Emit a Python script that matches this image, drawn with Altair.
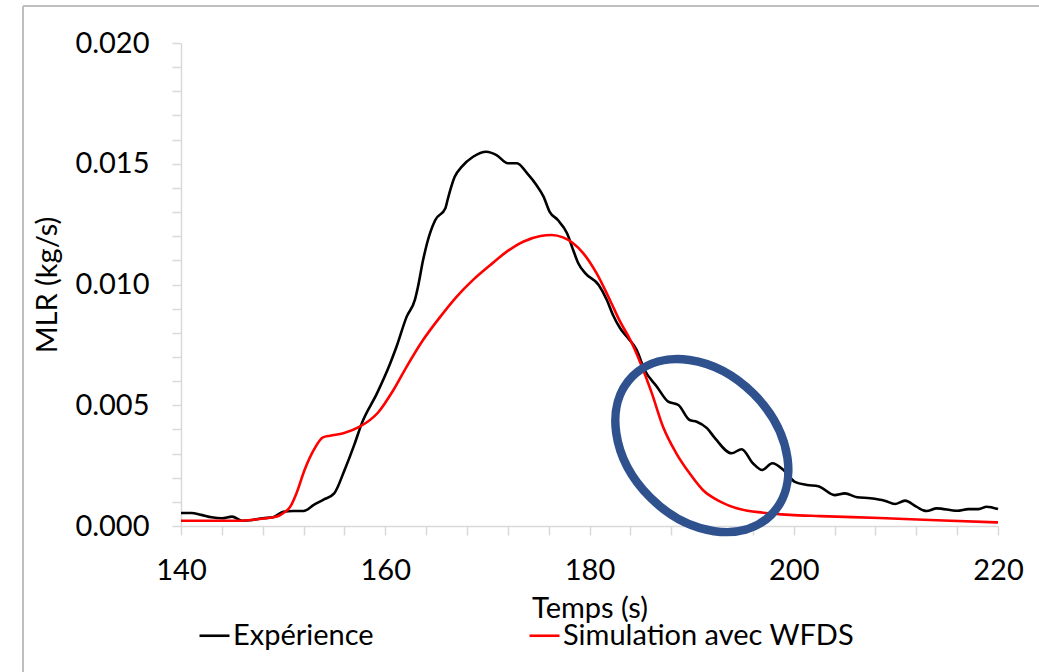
import altair as alt
import pandas as pd

# Experimental MLR curve (black)
t_exp = [140.0, 141.0, 142.0, 143.0, 144.0, 145.0, 146.0, 147.0, 148.0, 149.0,
         150.0, 151.0, 152.0, 153.0, 154.0, 155.0, 156.0, 157.0, 157.7, 159.2,
         160.5, 161.1, 162.1, 162.9, 163.2, 163.7, 164.1, 164.9, 165.9, 166.1,
         166.8, 167.5, 168.6, 169.9, 170.9, 172.0, 172.9, 173.9, 174.8, 175.5,
         176.1, 176.9, 177.8, 178.4, 178.9, 179.6, 180.9, 181.7, 182.3, 183.0,
         183.8, 184.6, 185.4, 186.6, 187.7, 188.7, 189.8, 190.5, 191.5, 192.3,
         193.9, 194.9, 196.0, 196.9, 197.9, 199.0, 200.1, 201.3, 202.4, 204.0,
         205.0, 206.2, 207.5, 208.9, 209.9, 210.9, 212.0, 213.0, 214.0, 216.0,
         217.1, 218.1, 218.9, 220.0]
v_exp = [0.00054, 0.00054, 0.00046, 0.00036, 0.00032, 0.00039, 0.00022, 0.00025, 0.00032, 0.00036,
         0.00059, 0.00062, 0.00062, 0.00087, 0.00110, 0.00135, 0.00230, 0.00340, 0.00425, 0.00550,
         0.00675, 0.00742, 0.00867, 0.00936, 0.00990, 0.01100, 0.01172, 0.01267, 0.01317, 0.01350,
         0.01446, 0.01488, 0.01529, 0.01550, 0.01536, 0.01502, 0.01502, 0.01460, 0.01412, 0.01364,
         0.01301, 0.01267, 0.01212, 0.01143, 0.01088, 0.01046, 0.00998, 0.00936, 0.00874, 0.00819,
         0.00777, 0.00730, 0.00646, 0.00577, 0.00515, 0.00501, 0.00439, 0.00432, 0.00405, 0.00363,
         0.00301, 0.00318, 0.00260, 0.00232, 0.00260, 0.00232, 0.00183, 0.00170, 0.00165, 0.00128,
         0.00135, 0.00119, 0.00115, 0.00105, 0.00091, 0.00105, 0.00080, 0.00062, 0.00073, 0.00063,
         0.00070, 0.00070, 0.00080, 0.00070]

# WFDS simulation curve (red)
t_sim = [140.0, 146.0, 147.7, 149.4, 150.0, 150.7, 151.3, 152.1, 153.0, 153.9,
         154.6, 155.9, 157.5, 159.3, 160.8, 162.1, 163.7, 165.4, 167.0, 168.6,
         170.3, 171.9, 173.5, 175.2, 176.3, 177.4, 178.4, 179.4, 180.7, 182.0,
         183.0, 184.0, 185.0, 186.1, 187.2, 188.5, 189.8, 191.1, 192.8, 194.7,
         197.0, 199.6, 202.6, 208.4, 214.0, 220.0]
v_sim = [0.00022, 0.00022, 0.00029, 0.00039, 0.00053, 0.00080, 0.00135, 0.00232, 0.00315, 0.00367,
         0.00374, 0.00384, 0.00411, 0.00470, 0.00563, 0.00660, 0.00770, 0.00867, 0.00950, 0.01019,
         0.01081, 0.01136, 0.01177, 0.01201, 0.01205, 0.01195, 0.01171, 0.01129, 0.01046, 0.00936,
         0.00846, 0.00770, 0.00674, 0.00550, 0.00411, 0.00301, 0.00218, 0.00149, 0.00101, 0.00070,
         0.00055, 0.00046, 0.00041, 0.00033, 0.00024, 0.00015]

series_names = ["Expérience", "Simulation avec WFDS"]
series_colors = ["#000000", "#FF0000"]

x_ticks = [140, 144, 148, 152, 156, 160, 164, 168, 172, 176, 180,
           184, 188, 192, 196, 200, 204, 208, 212, 216, 220]
y_ticks = [0.000, 0.001, 0.002, 0.003, 0.004, 0.005, 0.006, 0.007, 0.008, 0.009, 0.010,
           0.011, 0.012, 0.013, 0.014, 0.015, 0.016, 0.017, 0.018, 0.019, 0.020]

# highlighted region (ellipse annotation centre)
ellipse_center_t = [191.0]
ellipse_center_v = [0.00333]

FONT = "Lato"
AXIS_GRAY = "#D9D9D9"

df = pd.concat([
    pd.DataFrame({"t": t_exp, "v": v_exp, "s": series_names[0]}),
    pd.DataFrame({"t": t_sim, "v": v_sim, "s": series_names[1]}),
])

x_scale = alt.Scale(domain=[140, 220], nice=False, zero=False)
y_scale = alt.Scale(domain=[0, 0.02], nice=False, zero=True)

lines = alt.Chart(df).mark_line(strokeWidth=2.6, interpolate="monotone").encode(
    x=alt.X("t:Q", scale=x_scale, axis=alt.Axis(
        title="Temps (s)", values=x_ticks, tickCount=40,
        labelExpr="datum.value % 20 === 0 ? datum.label : ''",
        labelOverlap=False, labelFlush=False,
        grid=False, domainColor=AXIS_GRAY, domainWidth=1.5,
        tickColor=AXIS_GRAY, tickWidth=1.5, tickSize=9,
        labelFont=FONT, labelFontSize=29, labelColor="#000000",
        labelPadding=21, labelBaseline="top",
        titleFont=FONT, titleFontSize=29, titleFontWeight="normal", titleColor="#000000",
        titleX=408.5, titleY=91, titleBaseline="alphabetic", titleAlign="center",
    )),
    y=alt.Y("v:Q", scale=y_scale, axis=alt.Axis(
        title="MLR (kg/s)", values=y_ticks, tickCount=40,
        labelExpr="round(datum.value*1000) % 5 === 0 ? format(datum.value, '.3f') : ''",
        labelOverlap=False, labelFlush=False,
        grid=False, domainColor=AXIS_GRAY, domainWidth=1.5,
        tickColor=AXIS_GRAY, tickWidth=1.5, tickSize=9,
        labelFont=FONT, labelFontSize=29, labelColor="#000000",
        labelPadding=23,
        titleFont=FONT, titleFontSize=29, titleFontWeight="normal", titleColor="#000000",
        titleAngle=270, titleX=-134, titleY=241.5, titleBaseline="middle", titleAlign="center",
    )),
    color=alt.Color("s:N", scale=alt.Scale(domain=series_names, range=series_colors),
                    legend=alt.Legend(
                        title=None, orient="none", legendX=17, legendY=576,
                        direction="horizontal", symbolType="stroke", symbolSize=900,
                        symbolStrokeWidth=2.6, labelFont=FONT, labelFontSize=29,
                        labelColor="#000000", labelOffset=2, columnPadding=150,
                        labelLimit=500, padding=0,
                    )),
)

ell_df = pd.DataFrame({"t": ellipse_center_t, "v": ellipse_center_v})
ELLIPSE = ("M 1 0 C 1 0.4125 0.5523 0.747 0 0.747 C -0.5523 0.747 -1 0.4125 -1 0 "
           "C -1 -0.4125 -0.5523 -0.747 0 -0.747 C 0.5523 -0.747 1 -0.4125 1 0 Z")
ellipse = alt.Chart(ell_df).mark_point(
    shape=ELLIPSE, size=38416, angle=45, filled=False,
    stroke="#2F528F", strokeWidth=8.5, opacity=1,
).encode(x=alt.X("t:Q", scale=x_scale), y=alt.Y("v:Q", scale=y_scale))

frame_color = "#BFBFBF"
frame_top = alt.Chart(ell_df).mark_rule(color=frame_color, strokeWidth=2).encode(
    x=alt.value(-158), x2=alt.value(870), y=alt.value(-37))
frame_left = alt.Chart(ell_df).mark_rule(color=frame_color, strokeWidth=2).encode(
    x=alt.value(-158), y=alt.value(-37), y2=alt.value(640))

chart = alt.layer(frame_top, frame_left, lines, ellipse).properties(
    width=817, height=483,
    autosize=alt.AutoSizeParams(type="none"),
    padding={"left": 181, "top": 43, "right": 41, "bottom": 146},
    background="white",
).configure_view(stroke=None)

chart.save("out.html", embed_options={"renderer": "svg", "actions": False})
